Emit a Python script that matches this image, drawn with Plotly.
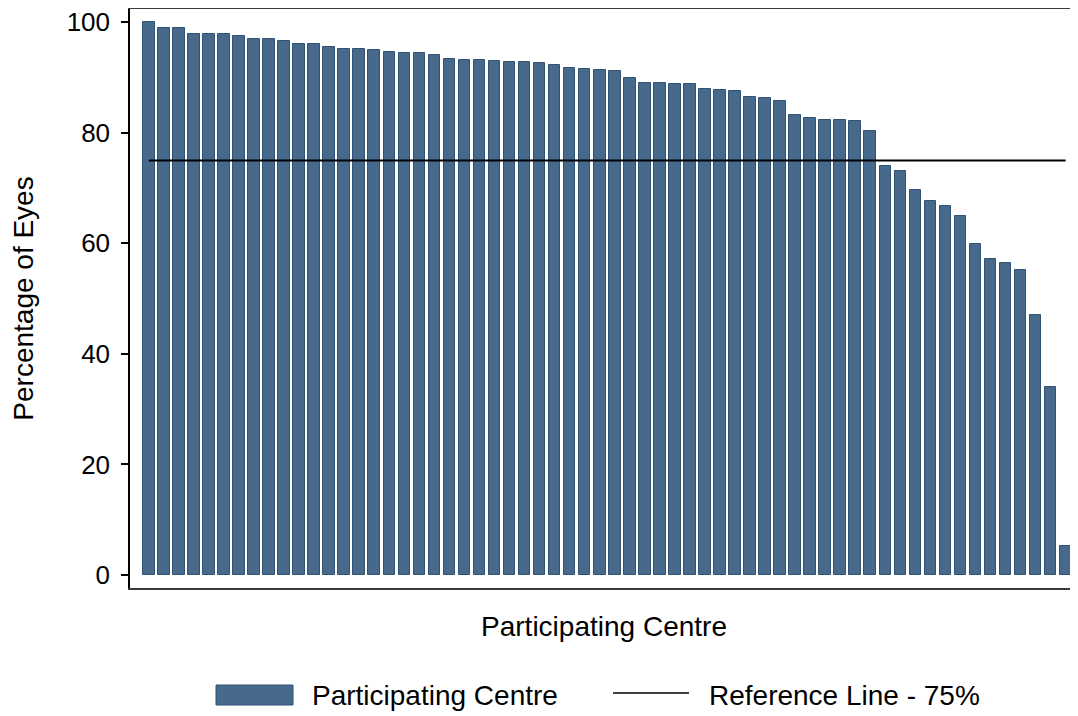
import plotly.graph_objects as go

# ---- data ----
centres = list(range(1, 63))
percent_eyes = [
    100.0, 99.0, 99.0, 97.8, 97.8, 97.8, 97.6, 96.9, 96.9, 96.6,
    96.1, 96.0, 95.5, 95.2, 95.2, 95.0, 94.6, 94.4, 94.4, 94.1,
    93.4, 93.2, 93.2, 93.0, 92.9, 92.9, 92.7, 92.3, 91.7, 91.5,
    91.3, 91.1, 90.0, 89.0, 89.0, 88.8, 88.8, 87.9, 87.8, 87.5,
    86.5, 86.3, 85.8, 83.2, 82.7, 82.4, 82.3, 82.2, 80.4, 74.0,
    73.1, 69.7, 67.7, 66.8, 65.0, 59.8, 57.1, 56.4, 55.1, 47.0,
    34.1, 5.2,
]
reference_value = 75
y_ticks = [0, 20, 40, 60, 80, 100]
bar_label = "Participating Centre"
line_label = "Reference Line - 75%"

BAR_COLOR = "#47698b"
BAR_EDGE = "#2f5275"
FONT = "Liberation Sans, Arial, sans-serif"
TXT = 28

# page body has an 8px margin; figure sized so the plot lands where the reference has it
OFF = 8
W, H = 1070, 708
L, R, T, B = 122, 0, 1, 128

fig = go.Figure()
fig.add_trace(go.Bar(
    x=centres, y=percent_eyes, width=0.77,
    marker=dict(color=BAR_COLOR, line=dict(color=BAR_EDGE, width=1)),
    name=bar_label, showlegend=False,
))
fig.add_trace(go.Scatter(
    x=[centres[0], centres[-1]], y=[reference_value, reference_value],
    mode="lines", line=dict(color="black", width=2),
    name=line_label, showlegend=False,
))

fig.update_layout(
    width=W, height=H,
    margin=dict(l=L, r=R, t=T, b=B, autoexpand=False),
    paper_bgcolor="white", plot_bgcolor="white",
    font=dict(family=FONT, size=TXT, color="black"),
    bargap=0,
)
fig.update_xaxes(
    range=[-0.25, 62.82], showticklabels=False, ticks="", showgrid=False,
    zeroline=False, showline=True, mirror=True, linecolor="#3a3a3a", linewidth=2,
    title=dict(text="Participating Centre", font=dict(size=TXT), standoff=27),
)
fig.update_yaxes(
    range=[-2.35, 102.4], tickvals=y_ticks, ticks="outside", ticklen=7,
    tickwidth=1.5, tickcolor="black", ticklabelstandoff=6,
    ticklabeloverflow="allow", tickfont=dict(size=26),
    showgrid=False, zeroline=False, showline=True, linecolor="black", linewidth=1.5,
    title=dict(text="Percentage of Eyes", font=dict(size=TXT), standoff=30),
)

# ---- legend drawn below the plot (positions given in page pixels) ----
pw, ph = W - L - R, H - T - B

def px(x):
    return (x - OFF - L) / pw

def py(y):
    return (H - B - (y - OFF)) / ph

fig.add_shape(type="rect", xref="paper", yref="paper",
              x0=px(216), x1=px(293), y0=py(705), y1=py(685),
              fillcolor=BAR_COLOR, line=dict(color=BAR_EDGE, width=1))
fig.add_annotation(xref="paper", yref="paper", x=px(310), y=py(695),
                   text=bar_label, showarrow=False, xanchor="left",
                   yanchor="middle", font=dict(size=TXT))
fig.add_shape(type="line", xref="paper", yref="paper",
              x0=px(613), x1=px(689), y0=py(693), y1=py(693),
              line=dict(color="black", width=1.6))
fig.add_annotation(xref="paper", yref="paper", x=px(707), y=py(695),
                   text=line_label, showarrow=False, xanchor="left",
                   yanchor="middle", font=dict(size=TXT))

fig.write_html("out.html")
